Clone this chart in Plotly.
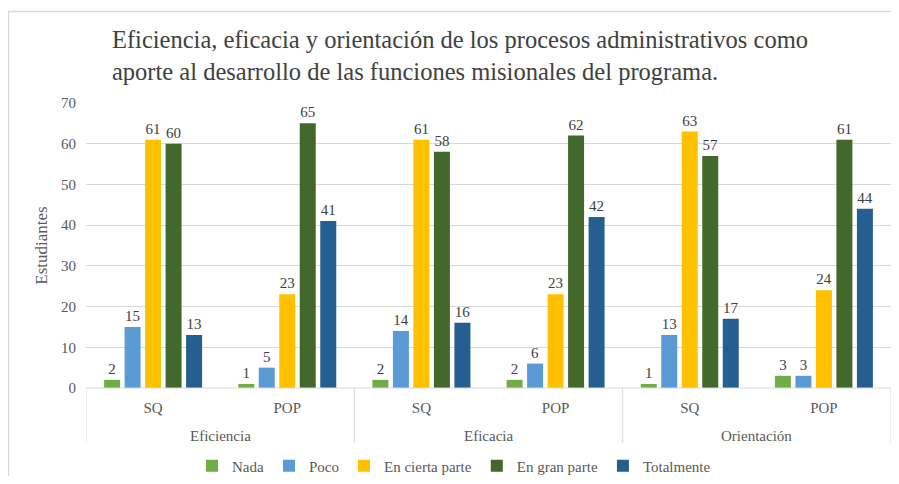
import plotly.graph_objects as go

# outer = dimension, inner = group
dimensiones = ["Eficiencia", "Eficacia", "Orientación"]
grupos = ["SQ", "POP", "SQ", "POP", "SQ", "POP"]

nada = [2, 1, 2, 2, 1, 3]
poco = [15, 5, 14, 6, 13, 3]
cierta_parte = [61, 23, 61, 23, 63, 24]
gran_parte = [60, 65, 58, 62, 57, 61]
totalmente = [13, 41, 16, 42, 17, 44]

series = [
    ("Nada", nada, "#70AD47"),
    ("Poco", poco, "#5B9BD5"),
    ("En cierta parte", cierta_parte, "#FFC000"),
    ("En gran parte", gran_parte, "#43682B"),
    ("Totalmente", totalmente, "#255E91"),
]

FONT = "'Liberation Serif', 'Times New Roman', serif"
GRID = "#D9D9D9"

xs = list(range(len(grupos)))
n_in = len(grupos) // len(dimensiones)

fig = go.Figure()
for name, vals, color in series:
    fig.add_trace(go.Bar(
        x=xs,
        y=vals,
        name=name,
        marker=dict(color=color, line=dict(width=0)),
        text=vals,
        textposition="outside",
        cliponaxis=False,
        textfont=dict(family=FONT, size=15, color="#404040"),
    ))

# the page body adds an 8px margin, so work in page pixels and shift
OFF = 8
W, H = 899 - 2 * OFF, 484 - 2 * OFF
PL, PR, PT, PB = 86, 891, 103, 388  # plot area in page pixels
L, T = PL - OFF, PT - OFF
R, B = W - (PR - OFF), H - (PB - OFF)
pw, ph = PR - PL, PB - PT

def px_x(p):
    return (p - PL) / pw

def px_y(p):
    return (PB - p) / ph

shapes = [
    # outer frame of the chart
    dict(type="rect", xref="paper", yref="paper",
         x0=px_x(8.5), x1=px_x(910), y0=px_y(500), y1=px_y(11.5),
         line=dict(color=GRID, width=1.5), fillcolor="rgba(0,0,0,0)", layer="below"),
    # x axis line
    dict(type="line", xref="paper", yref="paper", x0=0, x1=1, y0=0, y1=0,
         line=dict(color=GRID, width=1)),
]
annotations = [
    dict(text="Eficiencia, eficacia y orientación de los procesos administrativos como<br>"
              "aporte al desarrollo de las funciones misionales del programa.",
         xref="paper", yref="paper", x=px_x(110), y=px_y(56), xanchor="left", yanchor="middle",
         align="left", showarrow=False,
         font=dict(family=FONT, size=24.5, color="#404040")),
]
# group dividers and outer category labels
for i, dim in enumerate(dimensiones):
    left = i * n_in - 0.5
    shapes.append(dict(type="line", xref="x", yref="paper", x0=left, x1=left,
                       y0=0, y1=px_y(443), line=dict(color=GRID, width=1)))
    annotations.append(dict(text=dim, xref="x", yref="paper", x=left + n_in / 2, y=px_y(436),
                            yanchor="middle", showarrow=False,
                            font=dict(family=FONT, size=15, color="#595959")))
right = len(grupos) - 0.5
shapes.append(dict(type="line", xref="x", yref="paper", x0=right, x1=right,
                   y0=0, y1=px_y(443), line=dict(color=GRID, width=1)))

fig.update_layout(
    width=W, height=H,
    margin=dict(l=L, r=R, t=T, b=B, autoexpand=False),
    paper_bgcolor="white", plot_bgcolor="white",
    font=dict(family=FONT, color="#595959", size=14),
    barmode="group",
    bargap=0.236,
    bargroupgap=0.22,
    showlegend=True,
    legend=dict(orientation="h", x=px_x(454), xanchor="center", y=px_y(466), yanchor="middle",
                font=dict(family=FONT, size=15, color="#595959"), itemwidth=30,
                traceorder="normal"),
    xaxis=dict(
        range=[-0.5, len(grupos) - 0.5],
        tickmode="array", tickvals=xs, ticktext=grupos,
        showgrid=False, zeroline=False, showline=False,
        ticks="outside", ticklen=6, tickcolor="rgba(0,0,0,0)",
        tickfont=dict(family=FONT, size=15, color="#595959"),
        automargin=False,
    ),
    yaxis=dict(
        range=[0, 70], dtick=10,
        showgrid=True, gridcolor=GRID, gridwidth=1,
        zeroline=False, showline=False,
        ticks="outside", ticklen=6, tickcolor="rgba(0,0,0,0)",
        tickfont=dict(family=FONT, size=15, color="#595959"),
        automargin=False,
        title=dict(text="Estudiantes", font=dict(family=FONT, size=17, color="#595959"), standoff=9),
    ),
    shapes=shapes,
    annotations=annotations,
)

fig.write_html("out.html")
